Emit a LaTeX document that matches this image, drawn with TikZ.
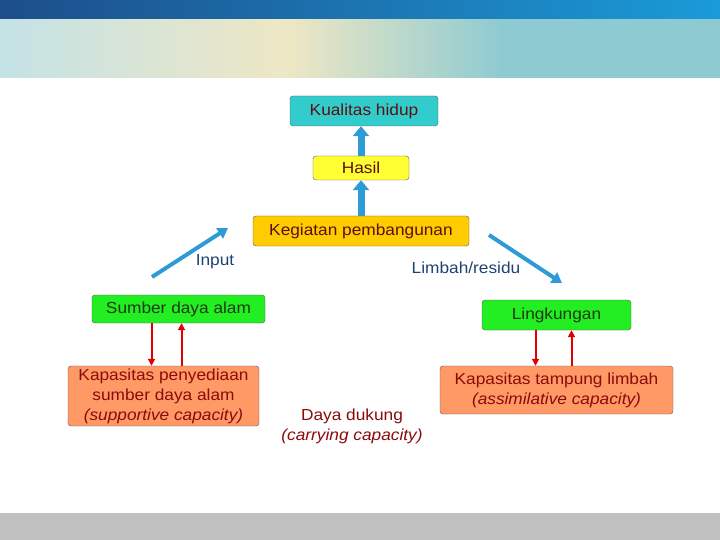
\documentclass[tikz,border=0pt]{standalone}
\usepackage{fontspec}
\setmainfont[FakeStretch=1.08]{Liberation Sans}
\usetikzlibrary{arrows.meta}
\definecolor{topblueL}{HTML}{1C4E8A}
\definecolor{topblueR}{HTML}{1A9BD8}
\definecolor{skyL}{HTML}{C4E2E6}
\definecolor{skyM}{HTML}{EEE7C4}
\definecolor{skyR}{HTML}{8ECAD2}
\definecolor{footgray}{HTML}{C0C0C0}
\definecolor{tealfill}{HTML}{33CCCC}
\definecolor{yellowfill}{HTML}{FFFF33}
\definecolor{goldfill}{HTML}{FFCC00}
\definecolor{greenfill}{HTML}{22EE22}
\definecolor{salmonfill}{HTML}{FF9966}
\definecolor{maroontext}{HTML}{5A1010}
\definecolor{redtext}{HTML}{8B0A0A}
\definecolor{greentext}{HTML}{1E3A12}
\definecolor{labelblue}{HTML}{1F4270}
\definecolor{arrowblue}{HTML}{2E9AD6}
\definecolor{arrowred}{HTML}{E00000}
\pgfdeclarehorizontalshading{skyband}{100bp}{color(0bp)=(skyL); color(25bp)=(skyL); color(45bp)=(skyM); color(60bp)=(skyR); color(100bp)=(skyR)}
\tikzset{
	box/.style n args={3}{draw=black!65,rounded corners=3pt,fill=#1,text=#2,minimum width=#3,inner sep=2pt},
	uparrow/.style={arrowblue,line width=7pt,-{Triangle[width=16pt,length=10pt]}},
	flow/.style={arrowblue,line width=4pt,-{Triangle[width=12pt,length=10pt]}},
	link/.style={arrowred,line width=2pt,-{Triangle[width=7pt,length=7pt]}},
	tag/.style={text=labelblue}
}

\begin{document}
\begin{tikzpicture}[x=1pt,y=-1pt,font=\fontsize{16}{20}\selectfont]
	\useasboundingbox (0,0) rectangle (720,540);
	% header and footer bands
	\shade [left color=topblueL,right color=topblueR] (0,0) rectangle (720,20);
	\shade [shading=skyband] (0,20) rectangle (720,78);
	\fill [footgray] (0,513) rectangle (720,540);

	\node [box={tealfill}{maroontext}{148pt},minimum height=30pt] (kualitas) at (364,111) {Kualitas hidup};
	\node [box={yellowfill}{maroontext}{96pt},minimum height=24pt] (hasil) at (361,168) {Hasil};
	\node [box={goldfill}{maroontext}{216pt},minimum height=30pt] (kegiatan) at (361,231) {Kegiatan pembangunan};
	\node [box={greenfill}{greentext}{173pt},minimum height=28pt] (sumber) at (178.5,309) {Sumber daya alam};
	\node [box={greenfill}{greentext}{149pt},minimum height=30pt] (lingkungan) at (556.5,315) {Lingkungan};
	\node [box={salmonfill}{redtext}{191pt},minimum height=60pt,align=center] (penyediaan) at (163.5,396)
		{Kapasitas penyediaan\\sumber daya alam\\\textit{(supportive capacity)}};
	\node [box={salmonfill}{redtext}{233pt},minimum height=48pt,align=center] (tampung) at (556.5,390)
		{Kapasitas tampung limbah\\\textit{(assimilative capacity)}};
	\node [text=redtext,align=center] (daya) at (352,426) {Daya dukung\\\textit{(carrying capacity)}};

	\node [tag] (input) at (215,262) {Input};
	\node [tag] (limbah) at (466,268) {Limbah/residu};
	\coordinate (in1) at (152,277);
	\coordinate (in2) at (228,228);
	\coordinate (out1) at (489,235);
	\coordinate (out2) at (562,283);

	\draw [uparrow] (hasil.north) -- (hasil.north |- kualitas.south);
	\draw [uparrow] (kegiatan.north) -- (hasil.south);
	\draw [flow] (in1) -- (in2);
	\draw [flow] (out1) -- (out2);

	\draw [link] ([xshift=-27pt]sumber.south) -- ([xshift=-27pt]sumber.south |- penyediaan.north);
	\draw [link] ([xshift=3pt]sumber.south |- penyediaan.north) -- ([xshift=3pt]sumber.south);
	\draw [link] ([xshift=-21pt]lingkungan.south) -- ([xshift=-21pt]lingkungan.south |- tampung.north);
	\draw [link] ([xshift=15pt]lingkungan.south |- tampung.north) -- ([xshift=15pt]lingkungan.south);
\end{tikzpicture}
\end{document}
